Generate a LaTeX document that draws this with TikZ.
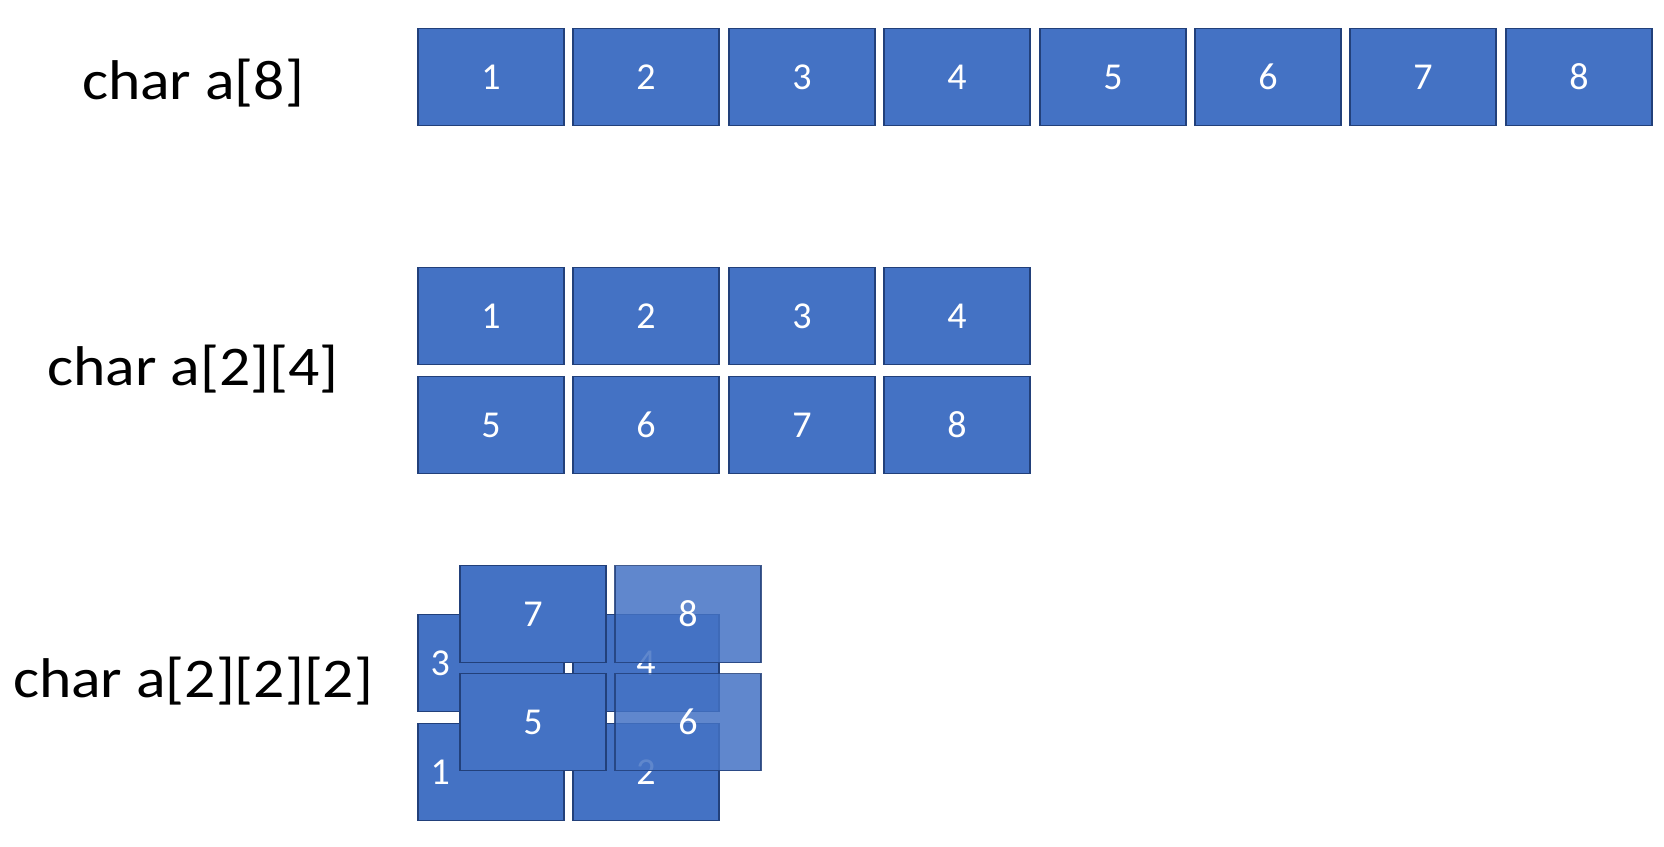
\documentclass[tikz,border=0pt]{standalone}
\usepackage{fontspec}
\newfontfamily\lblfont[FakeStretch=1.1]{Carlito}
\newfontfamily\numfont{Carlito}
\definecolor{cellblue}{HTML}{4472C4}
\definecolor{cellline}{HTML}{22407A}
\tikzset{
  cell/.style={draw=cellline, fill=cellblue, line width=1.4pt, minimum width=146, minimum height=97,
    inner sep=0pt, text=white, font=\numfont\fontsize{38}{42}\selectfont},
  ghost/.style={cell, fill opacity=0.85, draw opacity=0.85, text opacity=1},
  lbl/.style={anchor=base, font=\lblfont\fontsize{56}{64}\selectfont}
}
\begin{document}
\begin{tikzpicture}[x=1pt,y=-1pt]
\useasboundingbox (0,0) rectangle (1664,846);
% one row of eight
\node[lbl] (l8) at (193,99) {char a[8]};
\node[cell] (a1) at (491,77) {1};
\node[cell] (a2) at (646,77) {2};
\node[cell] (a3) at (802,77) {3};
\node[cell] (a4) at (957,77) {4};
\node[cell] (a5) at (1113,77) {5};
\node[cell] (a6) at (1268,77) {6};
\node[cell] (a7) at (1423,77) {7};
\node[cell] (a8) at (1579,77) {8};
% two rows of four
\node[lbl] (l24) at (193,385) {char a[2][4]};
\node[cell] (b1) at (491,316) {1};
\node[cell] (b2) at (646,316) {2};
\node[cell] (b3) at (802,316) {3};
\node[cell] (b4) at (957,316) {4};
\node[cell] (b5) at (491,425) {5};
\node[cell] (b6) at (646,425) {6};
\node[cell] (b7) at (802,425) {7};
\node[cell] (b8) at (957,425) {8};
% two layers of 2x2, back layer first
\node[lbl] (l222) at (193,697) {char a[2][2][2]};
\node[cell] (c3) at (491,663) {};
\node[cell] (c4) at (646,663) {4};
\node[cell] (c1) at (491,772) {};
\node[cell] (c2) at (646,772) {2};
\node[cell, fill=none, draw=none] (t3) at ([xshift=23]c3.west) {3};
\node[cell, fill=none, draw=none] (t1) at ([xshift=23]c1.west) {1};
\node[cell] (c7) at (533,614) {7};
\node[ghost] (c8) at (688,614) {8};
\node[cell] (c5) at (533,722) {5};
\node[ghost] (c6) at (688,722) {6};
\end{tikzpicture}
\end{document}
